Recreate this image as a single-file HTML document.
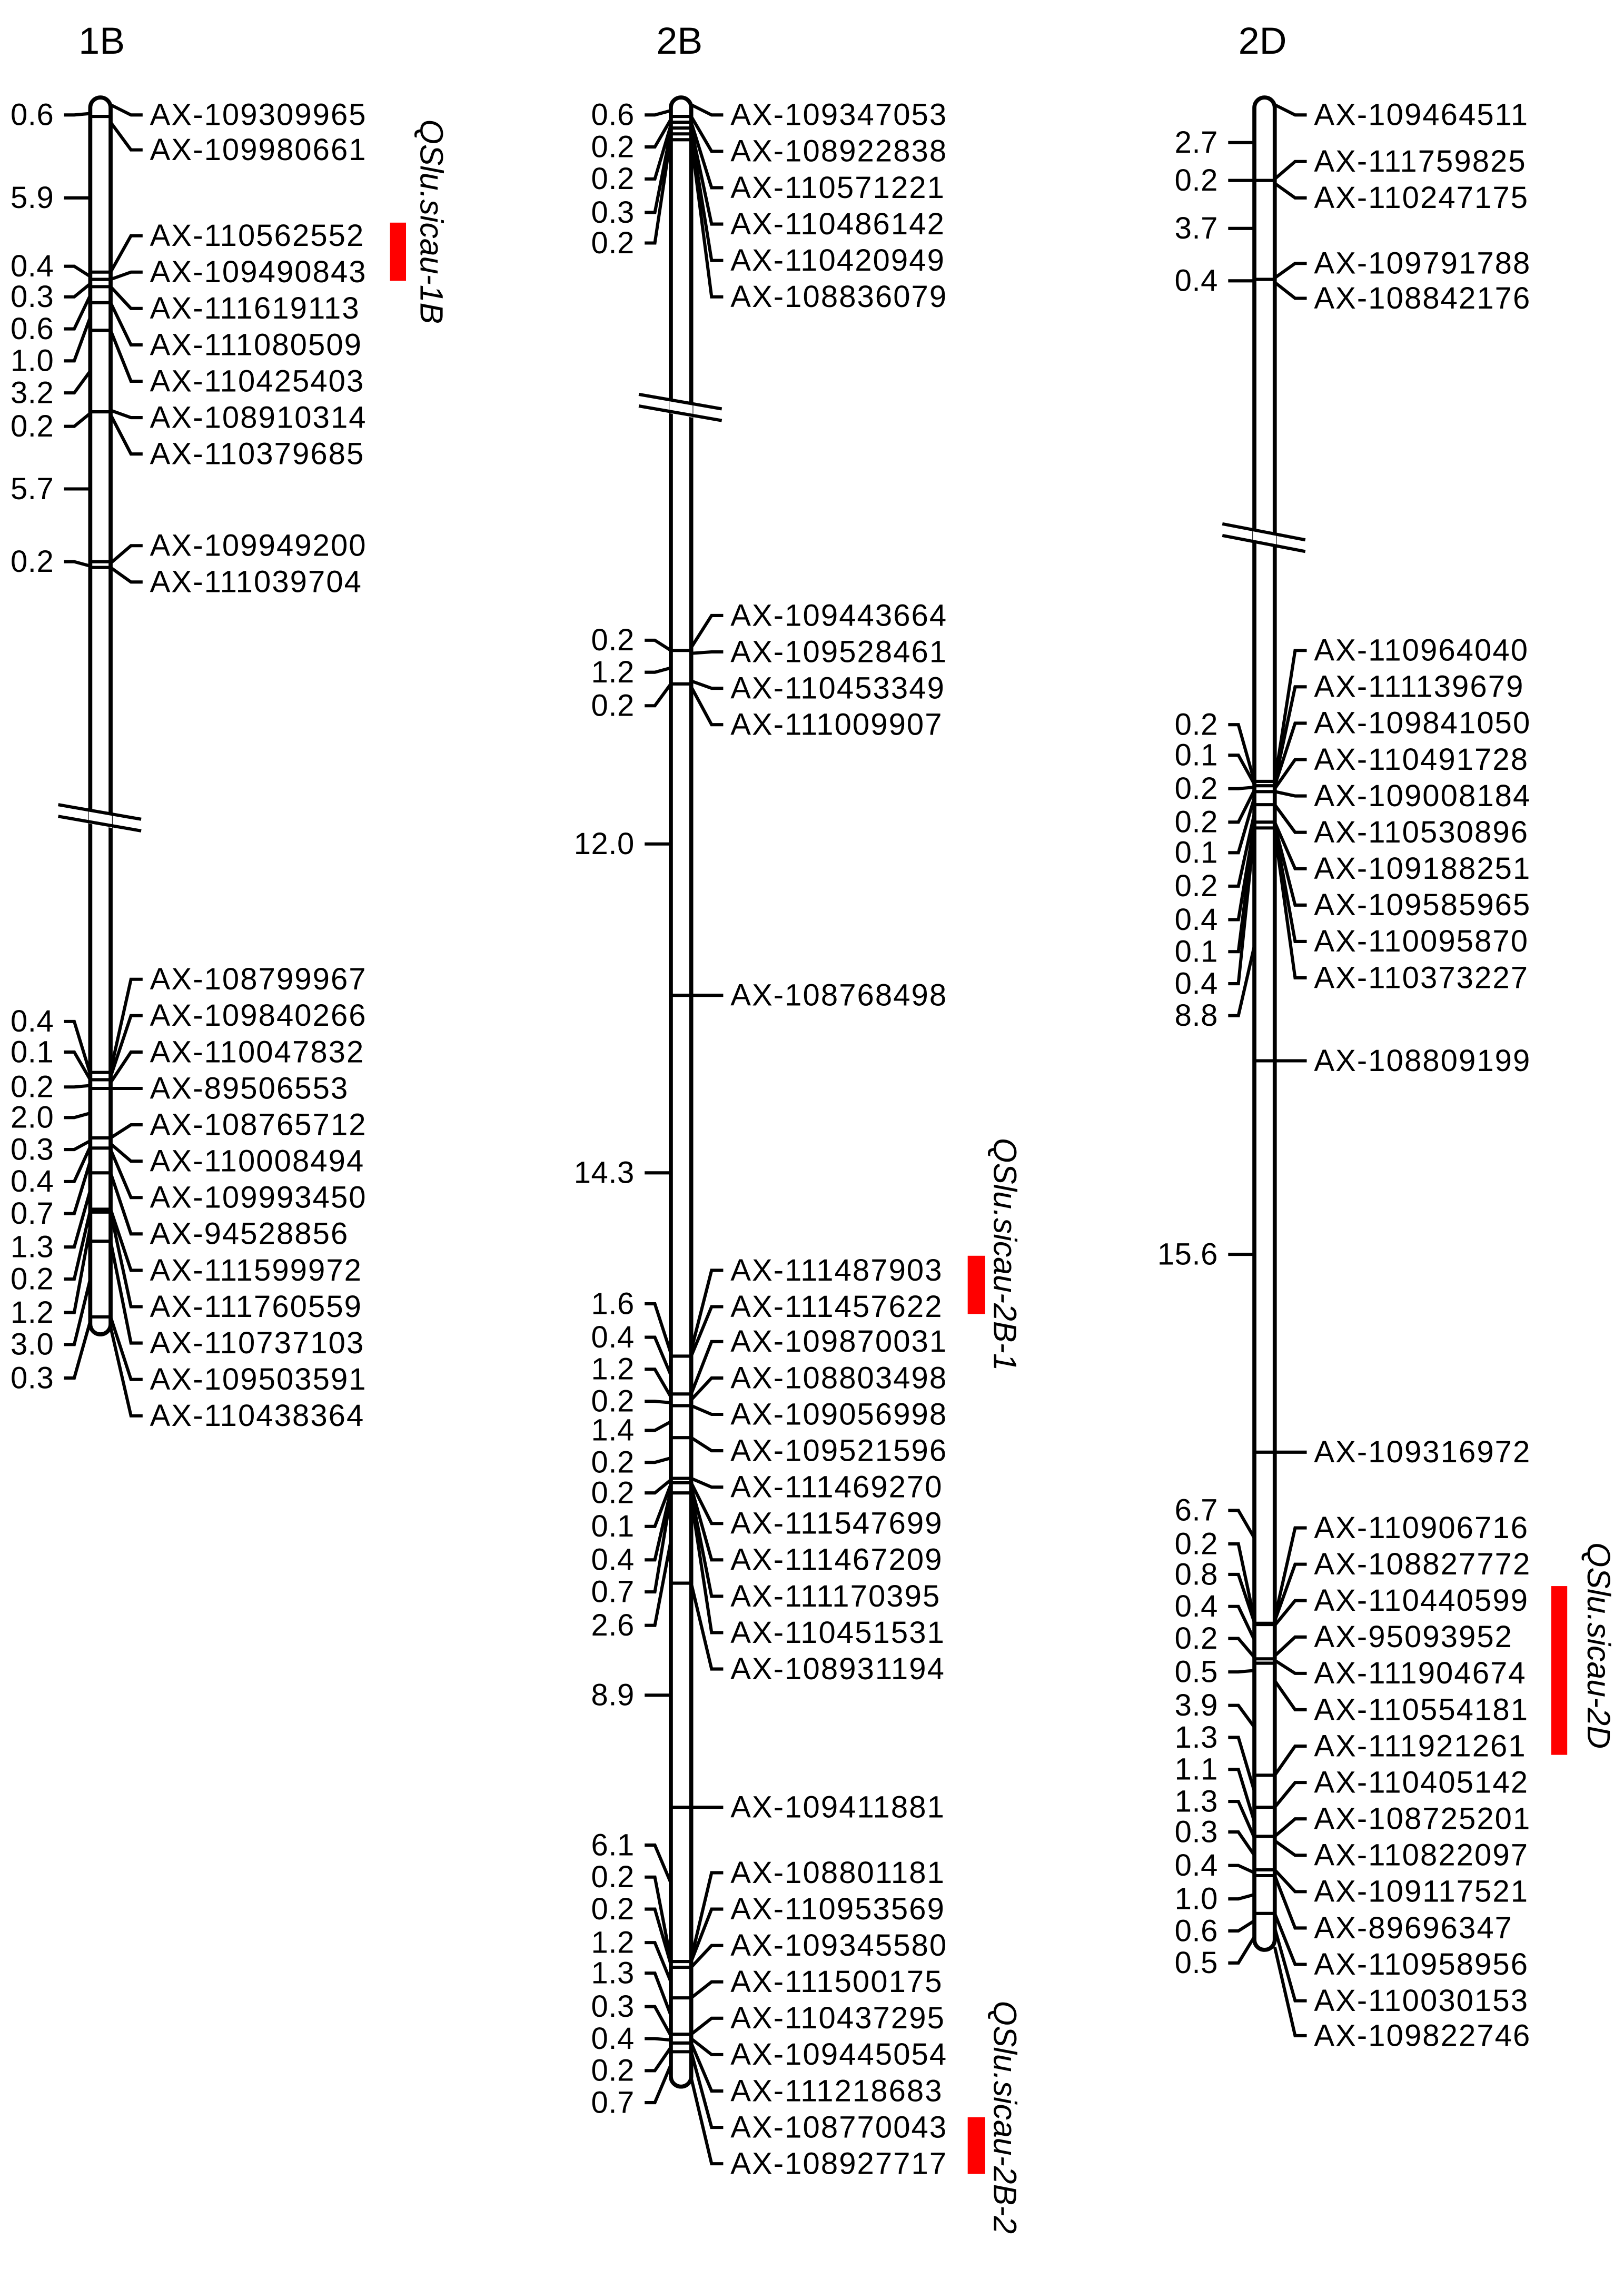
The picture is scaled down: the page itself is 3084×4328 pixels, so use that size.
<!DOCTYPE html>
<html><head><meta charset="utf-8">
<style>
html,body{margin:0;padding:0;background:#fff;}
svg{display:block;}
text{font-family:"Liberation Sans",Arial,sans-serif;fill:#000;}
.r{font-size:21px;letter-spacing:0.75px;}
.l{font-size:21px;letter-spacing:0.2px;text-anchor:end;}
.t{font-size:26px;}
.q{font-size:22px;font-style:italic;}
polyline,line{stroke:#000;stroke-width:2.2;fill:none;}
.bar{fill:#fff;stroke:#000;stroke-width:2.8;}
</style></head><body>
<svg width="3084" height="4328" viewBox="0 0 1116 1566.2" xmlns="http://www.w3.org/2000/svg">
<rect width="1116" height="1567" fill="#fff"/>

<text class="t" x="54" y="37">1B</text>
<text class="t" x="451" y="37">2B</text>
<text class="t" x="851" y="37">2D</text>

<!-- QTL -->
<rect x="268" y="153" width="11" height="40" fill="#f00"/>
<rect x="665" y="863" width="12" height="40" fill="#f00"/>
<rect x="665" y="1455" width="12" height="39" fill="#f00"/>
<rect x="1066" y="1090" width="11" height="116" fill="#f00"/>
<text class="q" transform="translate(289,82) rotate(90)">QSlu.sicau-1B</text>
<text class="q" transform="translate(683,782) rotate(90)">QSlu.sicau-2B-1</text>
<text class="q" transform="translate(683,1375) rotate(90)">QSlu.sicau-2B-2</text>
<text class="q" transform="translate(1091,1060) rotate(90)">QSlu.sicau-2D</text>

<!-- ========== 1B ========== -->
<g transform="translate(62,0)">
<rect class="bar" x="0" y="67" width="14" height="850" rx="7" ry="7"/>
<g>
<line x1="0" y1="80" x2="14" y2="80"/><line x1="0" y1="187" x2="14" y2="187"/><line x1="0" y1="192" x2="14" y2="192"/><line x1="0" y1="197" x2="14" y2="197"/><line x1="0" y1="208" x2="14" y2="208"/><line x1="0" y1="227" x2="14" y2="227"/><line x1="0" y1="283" x2="14" y2="283"/><line x1="0" y1="386" x2="14" y2="386"/><line x1="0" y1="390" x2="14" y2="390"/><line x1="0" y1="737" x2="14" y2="737"/><line x1="0" y1="742" x2="14" y2="742"/><line x1="0" y1="748" x2="14" y2="748"/><line x1="0" y1="782" x2="14" y2="782"/><line x1="0" y1="789" x2="14" y2="789"/><line x1="0" y1="806" x2="14" y2="806"/><line x1="0" y1="831" x2="14" y2="831"/><line x1="0" y1="833" x2="14" y2="833"/><line x1="0" y1="853" x2="14" y2="853"/><line x1="0" y1="905" x2="14" y2="905"/>
</g>
<polygon points="-1,557 15,560 15,569 -1,566" fill="#fff"/>
<line x1="-22" y1="553" x2="35" y2="563"/><line x1="-22" y1="561" x2="35" y2="571"/>
<!-- right -->
<polyline points="14,72 28,79 36,79"/><text class="r" x="41" y="86">AX-109309965</text>
<polyline points="14,84 28,103 36,103"/><text class="r" x="41" y="110">AX-109980661</text>
<polyline points="14,187 28,162 36,162"/><text class="r" x="41" y="169">AX-110562552</text>
<polyline points="14,192 28,187 36,187"/><text class="r" x="41" y="194">AX-109490843</text>
<polyline points="14,197 28,212 36,212"/><text class="r" x="41" y="219">AX-111619113</text>
<polyline points="14,208 28,237 36,237"/><text class="r" x="41" y="244">AX-111080509</text>
<polyline points="14,227 28,262 36,262"/><text class="r" x="41" y="269">AX-110425403</text>
<polyline points="14,282 28,287 36,287"/><text class="r" x="41" y="294">AX-108910314</text>
<polyline points="14,285 28,312 36,312"/><text class="r" x="41" y="319">AX-110379685</text>
<polyline points="14,387 28,375 36,375"/><text class="r" x="41" y="382">AX-109949200</text>
<polyline points="14,390 28,400 36,400"/><text class="r" x="41" y="407">AX-111039704</text>
<polyline points="14,736 28,673 36,673"/><text class="r" x="41" y="680">AX-108799967</text>
<polyline points="14,740 28,698 36,698"/><text class="r" x="41" y="705">AX-109840266</text>
<polyline points="14,744 28,723 36,723"/><text class="r" x="41" y="730">AX-110047832</text>
<polyline points="14,748 28,748 36,748"/><text class="r" x="41" y="755">AX-89506553</text>
<polyline points="14,782 28,773 36,773"/><text class="r" x="41" y="780">AX-108765712</text>
<polyline points="14,786 28,798 36,798"/><text class="r" x="41" y="805">AX-110008494</text>
<polyline points="14,790 28,823 36,823"/><text class="r" x="41" y="830">AX-109993450</text>
<polyline points="14,806 28,848 36,848"/><text class="r" x="41" y="855">AX-94528856</text>
<polyline points="14,831 28,873 36,873"/><text class="r" x="41" y="880">AX-111599972</text>
<polyline points="14,833 28,898 36,898"/><text class="r" x="41" y="905">AX-111760559</text>
<polyline points="14,853 28,923 36,923"/><text class="r" x="41" y="930">AX-110737103</text>
<polyline points="14,905 28,948 36,948"/><text class="r" x="41" y="955">AX-109503591</text>
<polyline points="14,912 28,973 36,973"/><text class="r" x="41" y="980">AX-110438364</text>
<!-- left -->
<polyline points="0,78 -11,79 -18,79"/><text class="l" x="-25" y="86">0.6</text>
<polyline points="0,136 -11,136 -18,136"/><text class="l" x="-25" y="143">5.9</text>
<polyline points="0,190 -11,183 -18,183"/><text class="l" x="-25" y="190">0.4</text>
<polyline points="0,195 -11,204 -18,204"/><text class="l" x="-25" y="211">0.3</text>
<polyline points="0,203 -11,226 -18,226"/><text class="l" x="-25" y="233">0.6</text>
<polyline points="0,218 -11,248 -18,248"/><text class="l" x="-25" y="255">1.0</text>
<polyline points="0,255 -11,270 -18,270"/><text class="l" x="-25" y="277">3.2</text>
<polyline points="0,284 -11,293 -18,293"/><text class="l" x="-25" y="300">0.2</text>
<polyline points="0,336 -11,336 -18,336"/><text class="l" x="-25" y="343">5.7</text>
<polyline points="0,389 -11,386 -18,386"/><text class="l" x="-25" y="393">0.2</text>
<polyline points="0,738 -11,702 -18,702"/><text class="l" x="-25" y="709">0.4</text>
<polyline points="0,742 -11,723 -18,723"/><text class="l" x="-25" y="730">0.1</text>
<polyline points="0,746 -11,747 -18,747"/><text class="l" x="-25" y="754">0.2</text>
<polyline points="0,765 -11,768 -18,768"/><text class="l" x="-25" y="775">2.0</text>
<polyline points="0,784 -11,790 -18,790"/><text class="l" x="-25" y="797">0.3</text>
<polyline points="0,788 -11,812 -18,812"/><text class="l" x="-25" y="819">0.4</text>
<polyline points="0,798 -11,834 -18,834"/><text class="l" x="-25" y="841">0.7</text>
<polyline points="0,818 -11,857 -18,857"/><text class="l" x="-25" y="864">1.3</text>
<polyline points="0,832 -11,879 -18,879"/><text class="l" x="-25" y="886">0.2</text>
<polyline points="0,843 -11,902 -18,902"/><text class="l" x="-25" y="909">1.2</text>
<polyline points="0,879 -11,924 -18,924"/><text class="l" x="-25" y="931">3.0</text>
<polyline points="0,908 -11,947 -18,947"/><text class="l" x="-25" y="954">0.3</text>
</g>

<!-- ========== 2B ========== -->
<g transform="translate(461,0)">
<rect class="bar" x="0" y="67" width="14" height="1367" rx="7" ry="7"/>
<g>
<line x1="0" y1="80" x2="14" y2="80"/><line x1="0" y1="84" x2="14" y2="84"/><line x1="0" y1="88" x2="14" y2="88"/><line x1="0" y1="92" x2="14" y2="92"/><line x1="0" y1="96" x2="14" y2="96"/><line x1="0" y1="447" x2="14" y2="447"/><line x1="0" y1="470" x2="14" y2="470"/><line x1="0" y1="684" x2="14" y2="684"/><line x1="0" y1="932" x2="14" y2="932"/><line x1="0" y1="958" x2="14" y2="958"/><line x1="0" y1="966" x2="14" y2="966"/><line x1="0" y1="988" x2="14" y2="988"/><line x1="0" y1="1016" x2="14" y2="1016"/><line x1="0" y1="1019" x2="14" y2="1019"/><line x1="0" y1="1026" x2="14" y2="1026"/><line x1="0" y1="1088" x2="14" y2="1088"/><line x1="0" y1="1242" x2="14" y2="1242"/><line x1="0" y1="1348" x2="14" y2="1348"/><line x1="0" y1="1352" x2="14" y2="1352"/><line x1="0" y1="1373" x2="14" y2="1373"/><line x1="0" y1="1398" x2="14" y2="1398"/><line x1="0" y1="1404" x2="14" y2="1404"/><line x1="0" y1="1410" x2="14" y2="1410"/>
</g>
<polygon points="-1,275 15,278 15,287 -1,284" fill="#fff"/>
<line x1="-22" y1="271" x2="35" y2="281"/><line x1="-22" y1="279" x2="35" y2="289"/>
<!-- right -->
<polyline points="14,72 28,79 36,79"/><text class="r" x="41" y="86">AX-109347053</text>
<polyline points="14,80 28,104 36,104"/><text class="r" x="41" y="111">AX-108922838</text>
<polyline points="14,84 28,129 36,129"/><text class="r" x="41" y="136">AX-110571221</text>
<polyline points="14,88 28,154 36,154"/><text class="r" x="41" y="161">AX-110486142</text>
<polyline points="14,92 28,179 36,179"/><text class="r" x="41" y="186">AX-110420949</text>
<polyline points="14,96 28,204 36,204"/><text class="r" x="41" y="211">AX-108836079</text>
<polyline points="14,445 28,423 36,423"/><text class="r" x="41" y="430">AX-109443664</text>
<polyline points="14,449 28,448 36,448"/><text class="r" x="41" y="455">AX-109528461</text>
<polyline points="14,468 28,473 36,473"/><text class="r" x="41" y="480">AX-110453349</text>
<polyline points="14,472 28,498 36,498"/><text class="r" x="41" y="505">AX-111009907</text>
<polyline points="14,684 28,684 36,684"/><text class="r" x="41" y="691">AX-108768498</text>
<polyline points="14,928 28,873 36,873"/><text class="r" x="41" y="880">AX-111487903</text>
<polyline points="14,932 28,898 36,898"/><text class="r" x="41" y="905">AX-111457622</text>
<polyline points="14,958 28,922 36,922"/><text class="r" x="41" y="929">AX-109870031</text>
<polyline points="14,962 28,947 36,947"/><text class="r" x="41" y="954">AX-108803498</text>
<polyline points="14,966 28,972 36,972"/><text class="r" x="41" y="979">AX-109056998</text>
<polyline points="14,988 28,997 36,997"/><text class="r" x="41" y="1004">AX-109521596</text>
<polyline points="14,1016 28,1022 36,1022"/><text class="r" x="41" y="1029">AX-111469270</text>
<polyline points="14,1019 28,1047 36,1047"/><text class="r" x="41" y="1054">AX-111547699</text>
<polyline points="14,1022 28,1072 36,1072"/><text class="r" x="41" y="1079">AX-111467209</text>
<polyline points="14,1026 28,1097 36,1097"/><text class="r" x="41" y="1104">AX-111170395</text>
<polyline points="14,1030 28,1122 36,1122"/><text class="r" x="41" y="1129">AX-110451531</text>
<polyline points="14,1088 28,1147 36,1147"/><text class="r" x="41" y="1154">AX-108931194</text>
<polyline points="14,1242 28,1242 36,1242"/><text class="r" x="41" y="1249">AX-109411881</text>
<polyline points="14,1346 28,1287 36,1287"/><text class="r" x="41" y="1294">AX-108801181</text>
<polyline points="14,1348 28,1312 36,1312"/><text class="r" x="41" y="1319">AX-110953569</text>
<polyline points="14,1352 28,1337 36,1337"/><text class="r" x="41" y="1344">AX-109345580</text>
<polyline points="14,1373 28,1362 36,1362"/><text class="r" x="41" y="1369">AX-111500175</text>
<polyline points="14,1398 28,1387 36,1387"/><text class="r" x="41" y="1394">AX-110437295</text>
<polyline points="14,1401 28,1412 36,1412"/><text class="r" x="41" y="1419">AX-109445054</text>
<polyline points="14,1404 28,1437 36,1437"/><text class="r" x="41" y="1444">AX-111218683</text>
<polyline points="14,1410 28,1462 36,1462"/><text class="r" x="41" y="1469">AX-108770043</text>
<polyline points="14,1428 28,1487 36,1487"/><text class="r" x="41" y="1494">AX-108927717</text>
<!-- left -->
<polyline points="0,76 -11,79 -18,79"/><text class="l" x="-25" y="86">0.6</text>
<polyline points="0,82 -11,101 -18,101"/><text class="l" x="-25" y="108">0.2</text>
<polyline points="0,86 -11,123 -18,123"/><text class="l" x="-25" y="130">0.2</text>
<polyline points="0,90 -11,146 -18,146"/><text class="l" x="-25" y="153">0.3</text>
<polyline points="0,94 -11,167 -18,167"/><text class="l" x="-25" y="174">0.2</text>
<polyline points="0,447 -11,440 -18,440"/><text class="l" x="-25" y="447">0.2</text>
<polyline points="0,459 -11,462 -18,462"/><text class="l" x="-25" y="469">1.2</text>
<polyline points="0,470 -11,485 -18,485"/><text class="l" x="-25" y="492">0.2</text>
<polyline points="0,580 -11,580 -18,580"/><text class="l" x="-25" y="587">12.0</text>
<polyline points="0,806 -11,806 -18,806"/><text class="l" x="-25" y="813">14.3</text>
<polyline points="0,930 -11,896 -18,896"/><text class="l" x="-25" y="903">1.6</text>
<polyline points="0,945 -11,919 -18,919"/><text class="l" x="-25" y="926">0.4</text>
<polyline points="0,960 -11,941 -18,941"/><text class="l" x="-25" y="948">1.2</text>
<polyline points="0,964 -11,963 -18,963"/><text class="l" x="-25" y="970">0.2</text>
<polyline points="0,977 -11,983 -18,983"/><text class="l" x="-25" y="990">1.4</text>
<polyline points="0,1002 -11,1005 -18,1005"/><text class="l" x="-25" y="1012">0.2</text>
<polyline points="0,1017 -11,1026 -18,1026"/><text class="l" x="-25" y="1033">0.2</text>
<polyline points="0,1020 -11,1049 -18,1049"/><text class="l" x="-25" y="1056">0.1</text>
<polyline points="0,1024 -11,1072 -18,1072"/><text class="l" x="-25" y="1079">0.4</text>
<polyline points="0,1028 -11,1094 -18,1094"/><text class="l" x="-25" y="1101">0.7</text>
<polyline points="0,1059 -11,1117 -18,1117"/><text class="l" x="-25" y="1124">2.6</text>
<polyline points="0,1165 -11,1165 -18,1165"/><text class="l" x="-25" y="1172">8.9</text>
<polyline points="0,1294 -11,1268 -18,1268"/><text class="l" x="-25" y="1275">6.1</text>
<polyline points="0,1347 -11,1290 -18,1290"/><text class="l" x="-25" y="1297">0.2</text>
<polyline points="0,1350 -11,1312 -18,1312"/><text class="l" x="-25" y="1319">0.2</text>
<polyline points="0,1362 -11,1335 -18,1335"/><text class="l" x="-25" y="1342">1.2</text>
<polyline points="0,1385 -11,1356 -18,1356"/><text class="l" x="-25" y="1363">1.3</text>
<polyline points="0,1399 -11,1379 -18,1379"/><text class="l" x="-25" y="1386">0.3</text>
<polyline points="0,1402 -11,1401 -18,1401"/><text class="l" x="-25" y="1408">0.4</text>
<polyline points="0,1407 -11,1423 -18,1423"/><text class="l" x="-25" y="1430">0.2</text>
<polyline points="0,1419 -11,1445 -18,1445"/><text class="l" x="-25" y="1452">0.7</text>
</g>

<!-- ========== 2D ========== -->
<g transform="translate(862,0)">
<rect class="bar" x="0" y="67" width="14" height="1273" rx="7" ry="7"/>
<g>
<line x1="0" y1="124" x2="14" y2="124"/><line x1="0" y1="192" x2="14" y2="192"/><line x1="0" y1="537" x2="14" y2="537"/><line x1="0" y1="540" x2="14" y2="540"/><line x1="0" y1="544" x2="14" y2="544"/><line x1="0" y1="553" x2="14" y2="553"/><line x1="0" y1="565" x2="14" y2="565"/><line x1="0" y1="569" x2="14" y2="569"/><line x1="0" y1="729" x2="14" y2="729"/><line x1="0" y1="998" x2="14" y2="998"/><line x1="0" y1="1116" x2="14" y2="1116" style="stroke-width:3"/><line x1="0" y1="1140" x2="14" y2="1140"/><line x1="0" y1="1143" x2="14" y2="1143"/><line x1="0" y1="1220" x2="14" y2="1220"/><line x1="0" y1="1242" x2="14" y2="1242"/><line x1="0" y1="1262" x2="14" y2="1262"/><line x1="0" y1="1285" x2="14" y2="1285"/><line x1="0" y1="1289" x2="14" y2="1289"/><line x1="0" y1="1315" x2="14" y2="1315"/>
</g>
<polygon points="-1,364 15,367 15,376 -1,373" fill="#fff"/>
<line x1="-22" y1="360" x2="35" y2="371"/><line x1="-22" y1="368" x2="35" y2="379"/>
<!-- right -->
<polyline points="14,72 28,79 36,79"/><text class="r" x="41" y="86">AX-109464511</text>
<polyline points="14,123 28,111 36,111"/><text class="r" x="41" y="118">AX-111759825</text>
<polyline points="14,126 28,136 36,136"/><text class="r" x="41" y="143">AX-110247175</text>
<polyline points="14,191 28,181 36,181"/><text class="r" x="41" y="188">AX-109791788</text>
<polyline points="14,194 28,205 36,205"/><text class="r" x="41" y="212">AX-108842176</text>
<polyline points="14,537 28,447 36,447"/><text class="r" x="41" y="454">AX-110964040</text>
<polyline points="14,538 28,472 36,472"/><text class="r" x="41" y="479">AX-111139679</text>
<polyline points="14,540 28,497 36,497"/><text class="r" x="41" y="504">AX-109841050</text>
<polyline points="14,542 28,522 36,522"/><text class="r" x="41" y="529">AX-110491728</text>
<polyline points="14,544 28,547 36,547"/><text class="r" x="41" y="554">AX-109008184</text>
<polyline points="14,553 28,572 36,572"/><text class="r" x="41" y="579">AX-110530896</text>
<polyline points="14,565 28,597 36,597"/><text class="r" x="41" y="604">AX-109188251</text>
<polyline points="14,567 28,622 36,622"/><text class="r" x="41" y="629">AX-109585965</text>
<polyline points="14,569 28,647 36,647"/><text class="r" x="41" y="654">AX-110095870</text>
<polyline points="14,571 28,672 36,672"/><text class="r" x="41" y="679">AX-110373227</text>
<polyline points="14,729 28,729 36,729"/><text class="r" x="41" y="736">AX-108809199</text>
<polyline points="14,998 28,998 36,998"/><text class="r" x="41" y="1005">AX-109316972</text>
<polyline points="14,1112 28,1050 36,1050"/><text class="r" x="41" y="1057">AX-110906716</text>
<polyline points="14,1114 28,1075 36,1075"/><text class="r" x="41" y="1082">AX-108827772</text>
<polyline points="14,1117 28,1100 36,1100"/><text class="r" x="41" y="1107">AX-110440599</text>
<polyline points="14,1138 28,1125 36,1125"/><text class="r" x="41" y="1132">AX-95093952</text>
<polyline points="14,1141 28,1150 36,1150"/><text class="r" x="41" y="1157">AX-111904674</text>
<polyline points="14,1155 28,1175 36,1175"/><text class="r" x="41" y="1182">AX-110554181</text>
<polyline points="14,1220 28,1200 36,1200"/><text class="r" x="41" y="1207">AX-111921261</text>
<polyline points="14,1242 28,1225 36,1225"/><text class="r" x="41" y="1232">AX-110405142</text>
<polyline points="14,1262 28,1250 36,1250"/><text class="r" x="41" y="1257">AX-108725201</text>
<polyline points="14,1265 28,1275 36,1275"/><text class="r" x="41" y="1282">AX-110822097</text>
<polyline points="14,1285 28,1300 36,1300"/><text class="r" x="41" y="1307">AX-109117521</text>
<polyline points="14,1289 28,1325 36,1325"/><text class="r" x="41" y="1332">AX-89696347</text>
<polyline points="14,1315 28,1350 36,1350"/><text class="r" x="41" y="1357">AX-110958956</text>
<polyline points="14,1325 28,1375 36,1375"/><text class="r" x="41" y="1382">AX-110030153</text>
<polyline points="14,1338 28,1399 36,1399"/><text class="r" x="41" y="1406">AX-109822746</text>
<!-- left -->
<polyline points="0,98 -11,98 -18,98"/><text class="l" x="-25" y="105">2.7</text>
<polyline points="0,124 -11,124 -18,124"/><text class="l" x="-25" y="131">0.2</text>
<polyline points="0,157 -11,157 -18,157"/><text class="l" x="-25" y="164">3.7</text>
<polyline points="0,193 -11,193 -18,193"/><text class="l" x="-25" y="200">0.4</text>
<polyline points="0,537 -11,498 -18,498"/><text class="l" x="-25" y="505">0.2</text>
<polyline points="0,539 -11,519 -18,519"/><text class="l" x="-25" y="526">0.1</text>
<polyline points="0,541 -11,542 -18,542"/><text class="l" x="-25" y="549">0.2</text>
<polyline points="0,543 -11,565 -18,565"/><text class="l" x="-25" y="572">0.2</text>
<polyline points="0,548 -11,586 -18,586"/><text class="l" x="-25" y="593">0.1</text>
<polyline points="0,559 -11,609 -18,609"/><text class="l" x="-25" y="616">0.2</text>
<polyline points="0,566 -11,632 -18,632"/><text class="l" x="-25" y="639">0.4</text>
<polyline points="0,568 -11,654 -18,654"/><text class="l" x="-25" y="661">0.1</text>
<polyline points="0,570 -11,676 -18,676"/><text class="l" x="-25" y="683">0.4</text>
<polyline points="0,650 -11,698 -18,698"/><text class="l" x="-25" y="705">8.8</text>
<polyline points="0,862 -11,862 -18,862"/><text class="l" x="-25" y="869">15.6</text>
<polyline points="0,1057 -11,1038 -18,1038"/><text class="l" x="-25" y="1045">6.7</text>
<polyline points="0,1113 -11,1061 -18,1061"/><text class="l" x="-25" y="1068">0.2</text>
<polyline points="0,1115 -11,1082 -18,1082"/><text class="l" x="-25" y="1089">0.8</text>
<polyline points="0,1127 -11,1104 -18,1104"/><text class="l" x="-25" y="1111">0.4</text>
<polyline points="0,1139 -11,1126 -18,1126"/><text class="l" x="-25" y="1133">0.2</text>
<polyline points="0,1148 -11,1149 -18,1149"/><text class="l" x="-25" y="1156">0.5</text>
<polyline points="0,1187 -11,1172 -18,1172"/><text class="l" x="-25" y="1179">3.9</text>
<polyline points="0,1231 -11,1194 -18,1194"/><text class="l" x="-25" y="1201">1.3</text>
<polyline points="0,1252 -11,1216 -18,1216"/><text class="l" x="-25" y="1223">1.1</text>
<polyline points="0,1263 -11,1238 -18,1238"/><text class="l" x="-25" y="1245">1.3</text>
<polyline points="0,1275 -11,1259 -18,1259"/><text class="l" x="-25" y="1266">0.3</text>
<polyline points="0,1287 -11,1282 -18,1282"/><text class="l" x="-25" y="1289">0.4</text>
<polyline points="0,1302 -11,1305 -18,1305"/><text class="l" x="-25" y="1312">1.0</text>
<polyline points="0,1320 -11,1327 -18,1327"/><text class="l" x="-25" y="1334">0.6</text>
<polyline points="0,1331 -11,1349 -18,1349"/><text class="l" x="-25" y="1356">0.5</text>
</g>
</svg>
</body></html>
